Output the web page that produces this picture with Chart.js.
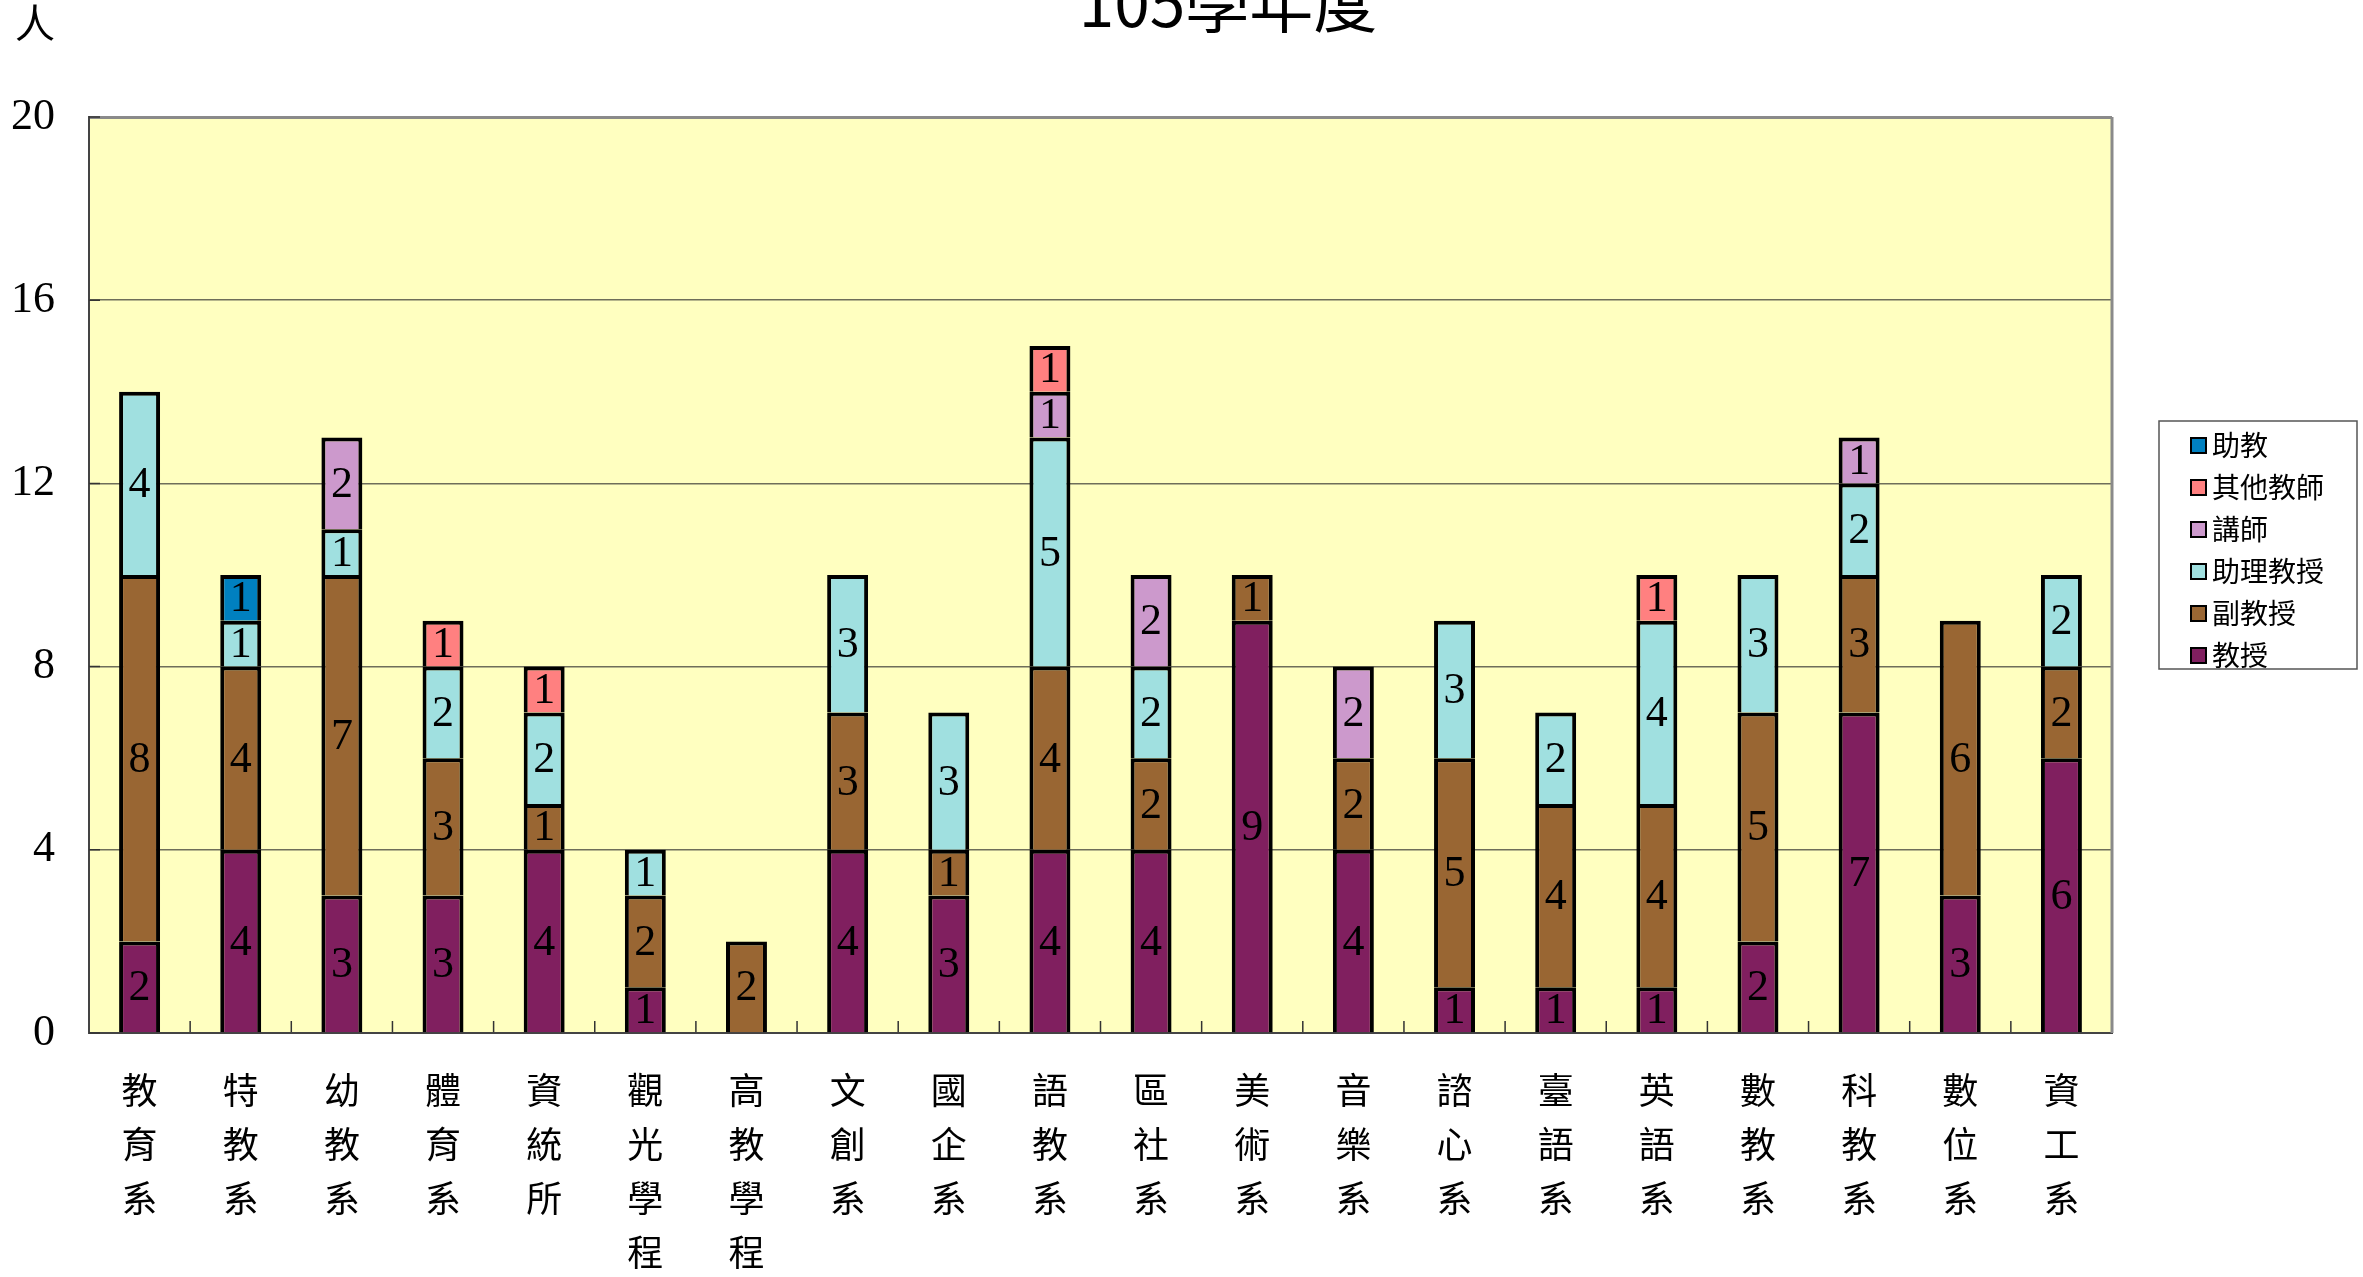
<!DOCTYPE html>
<html>
<head>
<meta charset="utf-8">
<title>105學年度</title>
<script src="https://cdn.jsdelivr.net/npm/chart.js@4.4.1/dist/chart.umd.min.js"></script>
<style>
  html, body { margin: 0; padding: 0; background: #fff; }
  #wrap { width: 2363px; height: 1277px; position: relative; }
</style>
</head>
<body>
<div id="wrap"><canvas id="facultyChart"></canvas></div>
<script>
// Data
const departments = ["教育系", "特教系", "幼教系", "體育系", "資統所", "觀光學程", "高教學程", "文創系", "國企系", "語教系",
  "區社系", "美術系", "音樂系", "諮心系", "臺語系", "英語系", "數教系", "科教系", "數位系", "資工系"];
const professors = [2, 4, 3, 3, 4, 1, 0, 4, 3, 4, 4, 9, 4, 1, 1, 1, 2, 7, 3, 6];
const associateProfessors = [8, 4, 7, 3, 1, 2, 2, 3, 1, 4, 2, 1, 2, 5, 4, 4, 5, 3, 6, 2];
const assistantProfessors = [4, 1, 1, 2, 2, 1, 0, 3, 3, 5, 2, 0, 0, 3, 2, 4, 3, 2, 0, 2];
const lecturers = [0, 0, 2, 0, 0, 0, 0, 0, 0, 1, 2, 0, 2, 0, 0, 0, 0, 1, 0, 0];
const otherTeachers = [0, 0, 0, 1, 1, 0, 0, 0, 0, 1, 0, 0, 0, 0, 0, 1, 0, 0, 0, 0];
const teachingAssistants = [0, 1, 0, 0, 0, 0, 0, 0, 0, 0, 0, 0, 0, 0, 0, 0, 0, 0, 0, 0];
const yTicks = [0, 4, 8, 12, 16, 20];

const seriesNames = ["教授", "副教授", "助理教授", "講師", "其他教師", "助教"];
const seriesValues = [professors, associateProfessors, assistantProfessors, lecturers, otherTeachers, teachingAssistants];
const seriesColors = ["#801F5F", "#996633", "#A0E0E0", "#CC99CC", "#FF8080", "#0080C0"];

const numFont = '"Liberation Serif", "DejaVu Serif", serif';
const cjkFont = '"Noto Sans CJK TC", "Noto Sans CJK SC", sans-serif';

// yellow plot area
const plotBackground = {
  id: "plotBackground",
  beforeDraw(chart) {
    const { ctx, chartArea: a } = chart;
    ctx.save();
    ctx.fillStyle = "#FFFFC0";
    ctx.fillRect(a.left, a.top, a.right - a.left, a.bottom - a.top);
    ctx.restore();
  },
};

// right border + small inward ticks
const frameTicks = {
  id: "frameTicks",
  beforeDatasetsDraw(chart) {
    const { ctx, chartArea: a, scales } = chart;
    ctx.save();
    ctx.strokeStyle = "#8a8a8a";
    ctx.lineWidth = 3;
    ctx.beginPath();
    ctx.moveTo(a.right, a.top);
    ctx.lineTo(a.right, a.bottom);
    ctx.stroke();

    ctx.strokeStyle = "#333";
    ctx.lineWidth = 1.5;
    ctx.beginPath();
    yTicks.forEach((v) => {
      const y = scales.y.getPixelForValue(v);
      ctx.moveTo(a.left, y);
      ctx.lineTo(a.left + 11, y);
    });
    const step = (a.right - a.left) / departments.length;
    for (let i = 1; i < departments.length; i++) {
      const x = scales.x.getPixelForValue(i) - step / 2;
      ctx.moveTo(x, a.bottom - 1);
      ctx.lineTo(x, a.bottom - 12);
    }
    ctx.stroke();
    ctx.restore();
  },
};

// numbers in the middle of each segment
const segmentLabels = {
  id: "segmentLabels",
  afterDatasetsDraw(chart) {
    const { ctx } = chart;
    ctx.save();
    ctx.font = "44px " + numFont;
    ctx.fillStyle = "#000";
    ctx.textAlign = "center";
    ctx.textBaseline = "middle";
    chart.data.datasets.forEach((ds, i) => {
      const meta = chart.getDatasetMeta(i);
      meta.data.forEach((bar, j) => {
        const v = ds.data[j];
        if (!v) return;
        ctx.fillText(String(v), bar.x, (bar.y + bar.base) / 2 + 2);
      });
    });
    ctx.restore();
  },
};

// title, unit and legend
const extras = {
  id: "extras",
  afterDraw(chart) {
    const { ctx } = chart;
    ctx.save();
    ctx.fillStyle = "#000";
    ctx.textAlign = "center";
    ctx.textBaseline = "alphabetic";
    ctx.font = "64px " + cjkFont;
    ctx.fillText("105學年度", 1228, 27);
    ctx.font = "40px " + cjkFont;
    ctx.fillText("人", 35, 38);

    // legend box
    ctx.strokeStyle = "#555";
    ctx.lineWidth = 1.5;
    ctx.strokeRect(2159, 421, 198, 248);
    ctx.font = "28px " + cjkFont;
    ctx.textAlign = "left";
    ctx.textBaseline = "middle";
    for (let k = 0; k < seriesNames.length; k++) {
      const idx = seriesNames.length - 1 - k;
      const cy = 445 + k * 42;
      ctx.fillStyle = seriesColors[idx];
      ctx.fillRect(2191, cy - 7, 15, 15);
      ctx.strokeStyle = "#000";
      ctx.lineWidth = 2;
      ctx.strokeRect(2191, cy - 7, 15, 15);
      ctx.fillStyle = "#000";
      ctx.fillText(seriesNames[idx], 2212, cy);
    }
    ctx.restore();
  },
};

const ctx = document.getElementById("facultyChart").getContext("2d");

const facultyChart = new Chart(ctx, {
  type: "bar",
  data: {
    labels: departments.map((d) => d.split("")),
    datasets: seriesNames.map((name, i) => ({
      label: name,
      data: seriesValues[i].map((v) => (v === 0 ? null : v)),
      backgroundColor: seriesColors[i],
      borderColor: "#000",
      borderWidth: 4,
      borderSkipped: "start",
      categoryPercentage: 1,
      barPercentage: 0.405,
    })),
  },
  options: {
    responsive: true,
    maintainAspectRatio: false,
    animation: false,
    layout: { padding: { top: 117, right: 251, left: 0, bottom: 0 } },
    scales: {
      x: {
        stacked: true,
        grid: { display: false, drawTicks: false },
        border: { color: "#444", width: 2 },
        ticks: {
          autoSkip: false,
          maxRotation: 0,
          padding: 30,
          color: "#000",
          font: { family: cjkFont, size: 36, lineHeight: 1.5 },
        },
        afterFit(scale) { scale.height = 244; },
      },
      y: {
        stacked: true,
        min: 0,
        max: 20,
        ticks: {
          stepSize: 4,
          padding: 34,
          color: "#000",
          font: { family: numFont, size: 44 },
        },
        grid: {
          drawTicks: false,
          color: (c) => (c.tick.value === 20 ? "#8a8a8a" : "#6e6e5a"),
          lineWidth: (c) => (c.tick.value === 20 ? 3 : 1.5),
        },
        border: { color: "#444", width: 2 },
        afterFit(scale) { scale.width = 89; },
      },
    },
    plugins: {
      legend: { display: false },
      tooltip: { enabled: false },
    },
  },
  plugins: [plotBackground, frameTicks, segmentLabels, extras],
});
</script>
</body>
</html>
